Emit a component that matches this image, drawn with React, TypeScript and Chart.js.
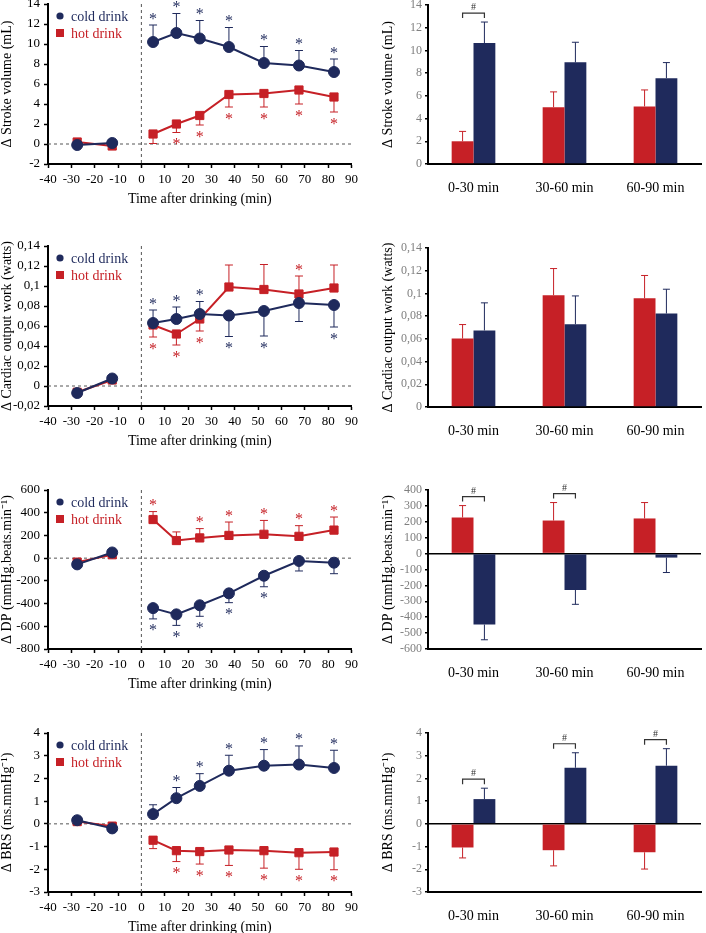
import React, { useEffect, useRef } from 'react';
import { Chart, registerables } from 'chart.js';

Chart.register(...registerables);

const SERIF = "'Liberation Serif', 'Times New Roman', Times, serif";
Chart.defaults.font.family = SERIF;
Chart.defaults.color = '#000';

const NAVY = '#1f2a5c';
const RED = '#c62026';
const GRAY_TICK = '#7f7f7f';

// ---------------- data ----------------
const TIME = [-27.5, -12.5, 5, 15, 25, 37.5, 52.5, 67.5, 82.5];
const SERIES = ['cold drink', 'hot drink'];
const PERIODS = ['0-30 min', '30-60 min', '60-90 min'];
const X_AXIS_TITLE = 'Time after drinking (min)';

// Stroke volume (time course)
const svCold = [-0.1, 0.1, 10.2, 11.1, 10.55, 9.7, 8.1, 7.85, 7.2];
const svColdSE = [0, 0, 1.7, 1.95, 1.8, 1.95, 1.65, 1.5, 1.3];
const svColdDir = [1, 1, 1, 1, 1, 1, 1, 1, 1];
const svColdStar = [0, 0, 1, 1, 1, 1, 1, 1, 1];
const svHot = [0.2, -0.2, 1.0, 2.0, 2.85, 4.95, 5.05, 5.4, 4.7];
const svHotSE = [0, 0, 0.95, 0.85, 0.95, 1.25, 1.35, 1.4, 1.5];
const svHotDir = [-1, -1, -1, -1, -1, -1, -1, -1, -1];
const svHotStar = [0, 0, 0, 1, 1, 1, 1, 1, 1];

// Cardiac output work (time course)
const coCold = [-0.007, 0.0075, 0.063, 0.067, 0.072, 0.0705, 0.075, 0.083, 0.081];
const coColdSE = [0, 0, 0.013, 0.012, 0.0125, 0.021, 0.025, 0.0185, 0.022];
const coColdDir = [1, 1, 1, 1, 1, -1, -1, -1, -1];
const coColdStar = [0, 0, 1, 1, 1, 1, 1, 0, 1];
const coHot = [-0.0063, 0.006, 0.061, 0.052, 0.067, 0.099, 0.0965, 0.092, 0.098];
const coHotSE = [0, 0, 0.012, 0.011, 0.012, 0.022, 0.025, 0.018, 0.023];
const coHotDir = [-1, -1, -1, -1, -1, 1, 1, 1, 1];
const coHotStar = [0, 0, 1, 1, 1, 0, 0, 1, 0];

// Double product (time course)
const dpCold = [-55, 50, -440, -495, -415, -310, -155, -25, -40];
const dpColdSE = [0, 0, 95, 97, 97, 82, 97, 88, 97];
const dpColdDir = [-1, -1, -1, -1, -1, -1, -1, -1, -1];
const dpColdStar = [0, 0, 1, 1, 1, 1, 1, 0, 0];
const dpHot = [-35, 30, 340, 155, 178, 200, 210, 192, 247];
const dpHotSE = [0, 0, 70, 76, 82, 118, 122, 94, 115];
const dpHotDir = [1, 1, 1, 1, 1, 1, 1, 1, 1];
const dpHotStar = [0, 0, 1, 0, 1, 1, 1, 1, 1];

// Baroreflex sensitivity (time course)
const brsCold = [0.16, -0.2, 0.43, 1.13, 1.67, 2.34, 2.56, 2.61, 2.46];
const brsColdSE = [0, 0, 0.41, 0.47, 0.54, 0.68, 0.71, 0.82, 0.78];
const brsColdDir = [1, 1, 1, 1, 1, 1, 1, 1, 1];
const brsColdStar = [0, 0, 0, 1, 1, 1, 1, 1, 1];
const brsHot = [0.1, -0.1, -0.72, -1.18, -1.22, -1.15, -1.18, -1.27, -1.24];
const brsHotSE = [0, 0, 0.37, 0.48, 0.55, 0.68, 0.77, 0.73, 0.78];
const brsHotDir = [-1, -1, -1, -1, -1, -1, -1, -1, -1];
const brsHotStar = [0, 0, 0, 1, 1, 1, 1, 1, 1];

// Period means (bars)
const svBarHot = [2.0, 5.0, 5.07];
const svBarHotSE = [0.87, 1.35, 1.45];
const svBarCold = [10.65, 8.95, 7.56];
const svBarColdSE = [1.85, 1.77, 1.37];
const svHash = [1, 0, 0];

const coBarHot = [0.0603, 0.0984, 0.0958];
const coBarHotSE = [0.0123, 0.0235, 0.02];
const coBarCold = [0.0674, 0.0729, 0.0823];
const coBarColdSE = [0.0243, 0.0249, 0.0214];
const coHash = [0, 0, 0];

const dpBarHot = [227, 208, 221];
const dpBarHotSE = [75, 113, 100];
const dpBarCold = [-446, -229, -25];
const dpBarColdSE = [96, 90, 94];
const dpHash = [1, 1, 0];

const brsBarHot = [-1.04, -1.16, -1.25];
const brsBarHotSE = [0.46, 0.69, 0.74];
const brsBarCold = [1.09, 2.47, 2.56];
const brsBarColdSE = [0.48, 0.66, 0.75];
const brsHash = [1, 1, 1];

const TITLE_SV = 'Δ Stroke volume (mL)';
const TITLE_CO = 'Δ Cardiac output work (watts)';
const TITLE_DP = 'Δ DP (mmHg.beats.min⁻¹)';
const TITLE_BRS = 'Δ BRS (ms.mmHg⁻¹)';

// ---------------- panel setup ----------------
const LINE_PANELS = [
  { title: TITLE_SV, min: -2, max: 14, step: 2, top: 4, bottom: 164,
    cold: { v: svCold, se: svColdSE, dir: svColdDir, star: svColdStar },
    hot: { v: svHot, se: svHotSE, dir: svHotDir, star: svHotStar } },
  { title: TITLE_CO, min: -0.02, max: 0.14, step: 0.02, top: 246, bottom: 406,
    cold: { v: coCold, se: coColdSE, dir: coColdDir, star: coColdStar },
    hot: { v: coHot, se: coHotSE, dir: coHotDir, star: coHotStar } },
  { title: TITLE_DP, min: -800, max: 600, step: 200, top: 490, bottom: 649,
    cold: { v: dpCold, se: dpColdSE, dir: dpColdDir, star: dpColdStar },
    hot: { v: dpHot, se: dpHotSE, dir: dpHotDir, star: dpHotStar } },
  { title: TITLE_BRS, min: -3, max: 4, step: 1, top: 733, bottom: 892,
    cold: { v: brsCold, se: brsColdSE, dir: brsColdDir, star: brsColdStar },
    hot: { v: brsHot, se: brsHotSE, dir: brsHotDir, star: brsHotStar } },
];

const BAR_PANELS = [
  { title: TITLE_SV, min: 0, max: 14, step: 2, top: 5, bottom: 164,
    hot: svBarHot, hotSE: svBarHotSE, cold: svBarCold, coldSE: svBarColdSE, hash: svHash },
  { title: TITLE_CO, min: 0, max: 0.14, step: 0.02, top: 248, bottom: 407,
    hot: coBarHot, hotSE: coBarHotSE, cold: coBarCold, coldSE: coBarColdSE, hash: coHash },
  { title: TITLE_DP, min: -600, max: 400, step: 100, top: 490, bottom: 649,
    hot: dpBarHot, hotSE: dpBarHotSE, cold: dpBarCold, coldSE: dpBarColdSE, hash: dpHash },
  { title: TITLE_BRS, min: -3, max: 4, step: 1, top: 733, bottom: 892,
    hot: brsBarHot, hotSE: brsBarHotSE, cold: brsBarCold, coldSE: brsBarColdSE, hash: brsHash },
];

const fmt = (v: number) => String(Math.round(v * 100) / 100).replace('.', ',');

function drawErrorBar(ctx: CanvasRenderingContext2D, x: number, y0: number, y1: number, color: string, cap: number) {
  ctx.save();
  ctx.strokeStyle = color;
  ctx.lineWidth = 1;
  ctx.beginPath();
  ctx.moveTo(x, y0);
  ctx.lineTo(x, y1);
  ctx.moveTo(x - cap, y1);
  ctx.lineTo(x + cap, y1);
  ctx.stroke();
  ctx.restore();
}

const guidesAndErrors = {
  id: 'guidesAndErrors',
  beforeDatasetsDraw(chart: any) {
    const { ctx, chartArea: a, scales: { x, y } } = chart;
    ctx.save();
    ctx.strokeStyle = '#555';
    ctx.lineWidth = 1;
    ctx.setLineDash([3, 3]);
    const y0 = y.getPixelForValue(0);
    const x0 = x.getPixelForValue(0);
    ctx.beginPath();
    ctx.moveTo(a.left, y0);
    ctx.lineTo(a.right, y0);
    ctx.moveTo(x0, a.top);
    ctx.lineTo(x0, a.bottom);
    ctx.stroke();
    ctx.restore();
    chart.data.datasets.forEach((ds: any) => {
      ds.data.forEach((pt: any, j: number) => {
        const e = ds.se[j];
        if (!e) return;
        drawErrorBar(ctx, x.getPixelForValue(pt.x), y.getPixelForValue(pt.y),
          y.getPixelForValue(pt.y + ds.dir[j] * e), ds.borderColor, 4);
      });
    });
  },
};

const starsAndLegend = {
  id: 'starsAndLegend',
  afterDatasetsDraw(chart: any) {
    const { ctx, chartArea: a, scales: { x, y } } = chart;
    chart.data.datasets.forEach((ds: any, i: number) => {
      ctx.save();
      ctx.fillStyle = ds.borderColor;
      ctx.font = `16px ${SERIF}`;
      ctx.textAlign = 'center';
      ctx.textBaseline = 'alphabetic';
      ds.data.forEach((pt: any, j: number) => {
        if (!ds.star[j]) return;
        const end = y.getPixelForValue(pt.y + ds.dir[j] * ds.se[j]);
        const cy = end - ds.dir[j] * 9;
        ctx.fillText('*', x.getPixelForValue(pt.x), cy + 7.5);
      });
      // inline legend
      const cx = a.left + 12;
      const ly = a.top + 12 + i * 17;
      if (ds.pointStyle === 'circle') {
        ctx.beginPath();
        ctx.arc(cx, ly, 3.6, 0, Math.PI * 2);
        ctx.fill();
      } else {
        ctx.fillRect(cx - 4, ly - 4, 8, 8);
      }
      ctx.font = `14px ${SERIF}`;
      ctx.textAlign = 'left';
      ctx.textBaseline = 'middle';
      ctx.fillText(ds.label, cx + 11, ly + 1);
      ctx.restore();
    });
  },
};

const barErrors = {
  id: 'barErrors',
  afterDatasetsDraw(chart: any) {
    const { ctx, scales: { y } } = chart;
    chart.data.datasets.forEach((ds: any, i: number) => {
      const meta = chart.getDatasetMeta(i);
      meta.data.forEach((bar: any, j: number) => {
        const v = ds.data[j];
        const s = v >= 0 ? 1 : -1;
        drawErrorBar(ctx, bar.x, bar.y, y.getPixelForValue(v + s * ds.se[j]), ds.backgroundColor, 3.5);
      });
    });
  },
};

function makeBrackets(hash: number[]) {
  return {
    id: 'brackets',
    afterDatasetsDraw(chart: any) {
      const { ctx, scales: { y } } = chart;
      const m0 = chart.getDatasetMeta(0);
      const m1 = chart.getDatasetMeta(1);
      hash.forEach((h, j) => {
        if (!h) return;
        const tops = chart.data.datasets.map((ds: any) => {
          const v = ds.data[j];
          return y.getPixelForValue(v >= 0 ? v + ds.se[j] : 0);
        });
        const by = Math.min(...tops) - 9;
        const x0 = m0.data[j].x;
        const x1 = m1.data[j].x;
        ctx.save();
        ctx.strokeStyle = '#333';
        ctx.lineWidth = 1.2;
        ctx.beginPath();
        ctx.moveTo(x0, by + 5);
        ctx.lineTo(x0, by);
        ctx.lineTo(x1, by);
        ctx.lineTo(x1, by + 5);
        ctx.stroke();
        ctx.fillStyle = '#333';
        ctx.font = `10px ${SERIF}`;
        ctx.textAlign = 'center';
        ctx.textBaseline = 'alphabetic';
        ctx.fillText('#', (x0 + x1) / 2, by - 3);
        ctx.restore();
      });
    },
  };
}

const PAD_T = 14;

function LinePanel({ p }: { p: any }) {
  const ref = useRef<HTMLCanvasElement>(null);
  const W = 362, X_H = 44, Y_W = 48;
  const H = PAD_T + (p.bottom - p.top) + X_H;
  useEffect(() => {
    const mk = (label: string, color: string, s: any, style: string, radius: number) => ({
      label,
      data: TIME.map((t, i) => ({ x: t, y: s.v[i] })),
      borderColor: color,
      backgroundColor: color,
      pointStyle: style,
      pointRadius: radius,
      pointHoverRadius: radius,
      pointBorderWidth: 1,
      borderWidth: 2,
      segment: { borderColor: (c: any) => (c.p0DataIndex === 1 ? 'rgba(0,0,0,0)' : color) },
      se: s.se,
      dir: s.dir,
      star: s.star,
    });
    const chart = new Chart(ref.current as HTMLCanvasElement, {
      type: 'line',
      data: {
        datasets: [
          mk(SERIES[0], NAVY, p.cold, 'circle', 5.5),
          mk(SERIES[1], RED, p.hot, 'rect', 5.8),
        ] as any,
      },
      options: {
        responsive: false,
        animation: false,
        events: [],
        layout: { padding: { top: PAD_T, right: 10, left: 0, bottom: 0 } },
        plugins: { legend: { display: false }, tooltip: { enabled: false } },
        scales: {
          x: {
            type: 'linear', min: -40, max: 90,
            ticks: { stepSize: 10, autoSkip: false, maxRotation: 0, minRotation: 0, color: '#000', font: { size: 13 }, padding: 4 },
            grid: { drawOnChartArea: false, tickLength: 4, tickColor: '#000', tickWidth: 1.5 },
            border: { color: '#000', width: 2 },
            title: { display: true, text: X_AXIS_TITLE, color: '#000', font: { size: 14, lineHeight: 1.2 }, padding: 0 },
            afterFit: (s: any) => { s.height = X_H; },
          },
          y: {
            min: p.min, max: p.max,
            ticks: { stepSize: p.step, autoSkip: false, color: '#000', font: { size: 13 }, padding: 4, callback: (v: any) => fmt(v) },
            grid: { drawOnChartArea: false, tickLength: 4, tickColor: '#000', tickWidth: 1.5 },
            border: { color: '#000', width: 2 },
            title: { display: true, text: p.title, color: '#000', font: { size: 14, lineHeight: 1 }, padding: 0 },
            afterFit: (s: any) => { s.width = Y_W; },
          },
        },
      } as any,
      plugins: [guidesAndErrors, starsAndLegend],
    });
    return () => chart.destroy();
  }, []);
  return (
    <canvas ref={ref} width={W} height={H}
      style={{ position: 'absolute', left: 0, top: p.top - PAD_T, width: W, height: H }} />
  );
}

function BarPanel({ p }: { p: any }) {
  const ref = useRef<HTMLCanvasElement>(null);
  const LEFT = 381, W = 325, X_H = 30, Y_W = 47;
  const H = PAD_T + (p.bottom - p.top) + X_H;
  useEffect(() => {
    const chart = new Chart(ref.current as HTMLCanvasElement, {
      type: 'bar',
      data: {
        labels: PERIODS,
        datasets: [
          { label: SERIES[1], data: p.hot, se: p.hotSE, backgroundColor: RED, categoryPercentage: 0.48, barPercentage: 1 },
          { label: SERIES[0], data: p.cold, se: p.coldSE, backgroundColor: NAVY, categoryPercentage: 0.48, barPercentage: 1 },
        ] as any,
      },
      options: {
        responsive: false,
        animation: false,
        events: [],
        layout: { padding: { top: PAD_T, right: 5, left: 0, bottom: 0 } },
        plugins: { legend: { display: false }, tooltip: { enabled: false } },
        scales: {
          x: {
            ticks: { color: '#000', font: { size: 14 }, padding: 8, maxRotation: 0, autoSkip: false },
            grid: { display: false },
            border: { color: '#000', width: 2 },
            afterFit: (s: any) => { s.height = X_H; },
          },
          y: {
            min: p.min, max: p.max,
            ticks: { stepSize: p.step, autoSkip: false, color: GRAY_TICK, font: { size: 12 }, padding: 3, callback: (v: any) => fmt(v) },
            grid: {
              drawOnChartArea: true,
              color: (c: any) => (c.tick && Math.abs(c.tick.value) < 1e-9 ? '#000' : 'rgba(0,0,0,0)'),
              lineWidth: 1.5,
              tickLength: 3, tickColor: '#000', tickWidth: 1.5,
            },
            border: { color: '#000', width: 2 },
            title: { display: true, text: p.title, color: '#000', font: { size: 14, lineHeight: 1 }, padding: 0 },
            afterFit: (s: any) => { s.width = Y_W; },
          },
        },
      } as any,
      plugins: [barErrors, makeBrackets(p.hash)],
    });
    return () => chart.destroy();
  }, []);
  return (
    <canvas ref={ref} width={W} height={H}
      style={{ position: 'absolute', left: LEFT, top: p.top - PAD_T, width: W, height: H }} />
  );
}

export default function App() {
  return (
    <div style={{ position: 'absolute', left: 0, top: 0, width: 706, height: 933, overflow: 'hidden', background: '#fff' }}>
      {LINE_PANELS.map((p, i) => <LinePanel key={'l' + i} p={p} />)}
      {BAR_PANELS.map((p, i) => <BarPanel key={'b' + i} p={p} />)}
    </div>
  );
}
